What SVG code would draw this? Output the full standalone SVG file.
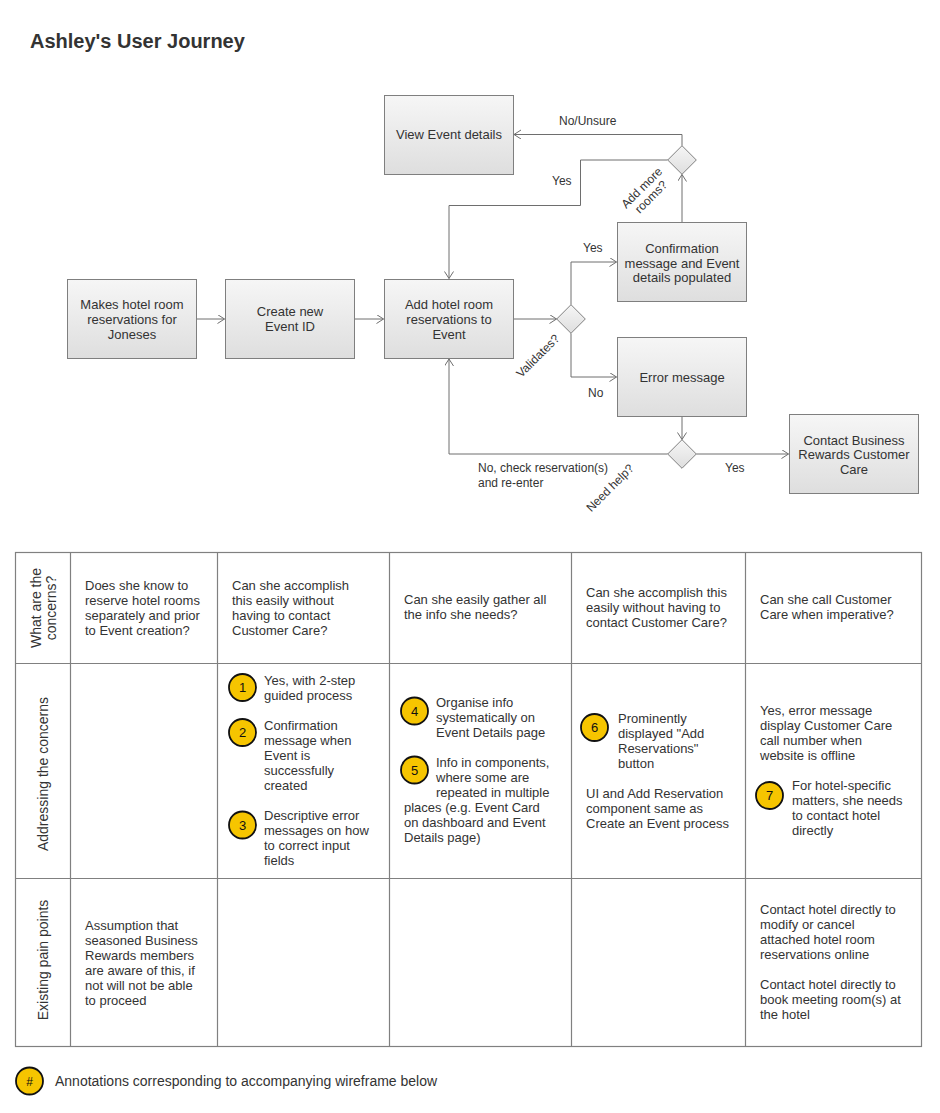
<svg xmlns="http://www.w3.org/2000/svg" width="940" height="1113" viewBox="0 0 940 1113">
<defs>
<linearGradient id="boxg" x1="0" y1="0" x2="0" y2="1">
<stop offset="0" stop-color="#f6f6f6"/>
<stop offset="1" stop-color="#dedede"/>
</linearGradient>
<marker id="arr" markerUnits="userSpaceOnUse" markerWidth="10" markerHeight="11" refX="7.5" refY="4.5" orient="auto">
<path d="M0.5,0 L7.5,4.5 L0.5,9" fill="none" stroke="#6e6e6e" stroke-width="1"/>
</marker>
<style>
text{font-family:"Liberation Sans",Arial,sans-serif;fill:#333;}
.t13{font-size:13px;}
.t12{font-size:12px;}
.t14{font-size:14px;}
.mid{text-anchor:middle;}
.box{fill:url(#boxg);stroke:#7f7f7f;stroke-width:1;}
.dia{fill:url(#boxg);stroke:#7f7f7f;stroke-width:1;}
.con{fill:none;stroke:#6e6e6e;stroke-width:1;}
.grid{fill:none;stroke:#808080;stroke-width:1.2;}
.num{fill:#f6c500;stroke:#111;stroke-width:1.8;}
.nt{font-size:13px;fill:#111;text-anchor:middle;}
</style>
</defs>
<rect x="0" y="0" width="940" height="1113" fill="#fff"/>
<text x="30" y="47.5" style="font-size:20px;font-weight:bold;">Ashley's User Journey</text>

<g id="connectors">
<path class="con" d="M196.5,319 H224.5" marker-end="url(#arr)"/>
<path class="con" d="M354.5,319 H383.5" marker-end="url(#arr)"/>
<path class="con" d="M513.5,319 H556.5" marker-end="url(#arr)"/>
<path class="con" d="M571,304.7 V262 H616.5" marker-end="url(#arr)"/>
<path class="con" d="M571,333.3 V377 H616.5" marker-end="url(#arr)"/>
<path class="con" d="M682,222 V174.5" marker-end="url(#arr)"/>
<path class="con" d="M682,145.7 V134.5 H514" marker-end="url(#arr)"/>
<path class="con" d="M667.7,160 H580.5 V205.5 H449 V278.5" marker-end="url(#arr)"/>
<path class="con" d="M682,416.5 V439.5" marker-end="url(#arr)"/>
<path class="con" d="M667.7,454 H449 V359" marker-end="url(#arr)"/>
<path class="con" d="M696.3,454 H788.5" marker-end="url(#arr)"/>
<text class="t12" x="559" y="125">No/Unsure</text>
<text class="t12" x="552" y="185">Yes</text>
<text class="t12" x="583" y="252">Yes</text>
<text class="t12" x="588" y="397">No</text>
<text class="t12" x="725" y="472">Yes</text>
<text class="t12" x="478" y="472">No, check reservation(s)</text>
<text class="t12" x="478" y="487">and re-enter</text>
<g transform="translate(538,356) rotate(-45)"><text class="t12 mid" x="0" y="4">Validates?</text></g>
<g transform="translate(610,488) rotate(-45)"><text class="t12 mid" x="0" y="4">Need help?</text></g>
<g transform="translate(646,192) rotate(-45)"><text class="t12 mid" x="0" y="-2">Add more</text><text class="t12 mid" x="0" y="11">rooms?</text></g>
</g>

<g id="n_makes">
<rect class="box" x="67.5" y="279.5" width="129" height="79"/>
<text class="t13 mid" x="132" y="309">Makes hotel room</text>
<text class="t13 mid" x="132" y="324">reservations for</text>
<text class="t13 mid" x="132" y="339">Joneses</text>
</g>
<g id="n_create">
<rect class="box" x="225.5" y="279.5" width="129" height="79"/>
<text class="t13 mid" x="290" y="316">Create new</text>
<text class="t13 mid" x="290" y="331">Event ID</text>
</g>
<g id="n_add">
<rect class="box" x="384.5" y="279.5" width="129" height="79"/>
<text class="t13 mid" x="449" y="309">Add hotel room</text>
<text class="t13 mid" x="449" y="324">reservations to</text>
<text class="t13 mid" x="449" y="339">Event</text>
</g>
<g id="n_view">
<rect class="box" x="384.5" y="95.5" width="129" height="79"/>
<text class="t13 mid" x="449" y="139">View Event details</text>
</g>
<g id="n_confirm">
<rect class="box" x="617.5" y="222.5" width="129" height="79"/>
<text class="t13 mid" x="682" y="253">Confirmation</text>
<text class="t13 mid" x="682" y="267.5">message and Event</text>
<text class="t13 mid" x="682" y="282">details populated</text>
</g>
<g id="n_error">
<rect class="box" x="617.5" y="337.5" width="129" height="79"/>
<text class="t13 mid" x="682" y="382">Error message</text>
</g>
<g id="n_contact">
<rect class="box" x="789.5" y="414.5" width="129" height="79"/>
<text class="t13 mid" x="854" y="444.5">Contact Business</text>
<text class="t13 mid" x="854" y="459">Rewards Customer</text>
<text class="t13 mid" x="854" y="474">Care</text>
</g>
<g id="d_validates">
<polygon class="dia" points="571,304.7 585.3,319 571,333.3 556.7,319"/>
</g>
<g id="d_addmore">
<polygon class="dia" points="682,145.7 696.3,160 682,174.3 667.7,160"/>
</g>
<g id="d_needhelp">
<polygon class="dia" points="682,439.7 696.3,454 682,468.3 667.7,454"/>
</g>

<g id="table">
<rect class="grid" x="15.5" y="552.5" width="906" height="494" fill="#fff"/>
<path class="grid" d="M70.5,552.5 V1046.5 M217.5,552.5 V1046.5 M389.5,552.5 V1046.5 M571.5,552.5 V1046.5 M745.5,552.5 V1046.5 M15.5,663.5 H921.5 M15.5,878.5 H921.5"/>
<g transform="translate(40.5,608) rotate(-90)"><text class="t14 mid" x="0" y="0">What are the</text><text class="t14 mid" x="0" y="15.5">concerns?</text></g>
<g transform="translate(48,774) rotate(-90)"><text class="t14 mid" x="0" y="0">Addressing the concerns</text></g>
<g transform="translate(48,960) rotate(-90)"><text class="t14 mid" x="0" y="0">Existing pain points</text></g>

<g class="t13">
<text x="85" y="590">Does she know to</text>
<text x="85" y="605">reserve hotel rooms</text>
<text x="85" y="620">separately and prior</text>
<text x="85" y="635">to Event creation?</text>
<text x="232" y="590">Can she accomplish</text>
<text x="232" y="605">this easily without</text>
<text x="232" y="620">having to contact</text>
<text x="232" y="635">Customer Care?</text>
<text x="404" y="604">Can she easily gather all</text>
<text x="404" y="619">the info she needs?</text>
<text x="586" y="597">Can she accomplish this</text>
<text x="586" y="612">easily without having to</text>
<text x="586" y="627">contact Customer Care?</text>
<text x="760" y="604">Can she call Customer</text>
<text x="760" y="619">Care when imperative?</text>

<text x="264" y="685">Yes, with 2-step</text>
<text x="264" y="700">guided process</text>
<text x="264" y="730">Confirmation</text>
<text x="264" y="745">message when</text>
<text x="264" y="760">Event is</text>
<text x="264" y="775">successfully</text>
<text x="264" y="790">created</text>
<text x="264" y="820">Descriptive error</text>
<text x="264" y="835">messages on how</text>
<text x="264" y="850">to correct input</text>
<text x="264" y="865">fields</text>

<text x="436" y="707">Organise info</text>
<text x="436" y="722">systematically on</text>
<text x="436" y="737">Event Details page</text>
<text x="436" y="767">Info in components,</text>
<text x="436" y="782">where some are</text>
<text x="436" y="797">repeated in multiple</text>
<text x="404" y="812">places (e.g. Event Card</text>
<text x="404" y="827">on dashboard and Event</text>
<text x="404" y="842">Details page)</text>

<text x="618" y="723">Prominently</text>
<text x="618" y="738">displayed "Add</text>
<text x="618" y="753">Reservations"</text>
<text x="618" y="768">button</text>
<text x="586" y="798">UI and Add Reservation</text>
<text x="586" y="813">component same as</text>
<text x="586" y="828">Create an Event process</text>

<text x="760" y="715">Yes, error message</text>
<text x="760" y="730">display Customer Care</text>
<text x="760" y="745">call number when</text>
<text x="760" y="760">website is offline</text>
<text x="792" y="790">For hotel-specific</text>
<text x="792" y="805">matters, she needs</text>
<text x="792" y="820">to contact hotel</text>
<text x="792" y="835">directly</text>

<text x="85" y="930">Assumption that</text>
<text x="85" y="945">seasoned Business</text>
<text x="85" y="960">Rewards members</text>
<text x="85" y="975">are aware of this, if</text>
<text x="85" y="990">not will not be able</text>
<text x="85" y="1005">to proceed</text>

<text x="760" y="914">Contact hotel directly to</text>
<text x="760" y="929">modify or cancel</text>
<text x="760" y="944">attached hotel room</text>
<text x="760" y="959">reservations online</text>
<text x="760" y="989">Contact hotel directly to</text>
<text x="760" y="1004">book meeting room(s) at</text>
<text x="760" y="1019">the hotel</text>
</g>
</g>

<g id="a1"><circle class="num" cx="242.5" cy="687.5" r="13.5"/><text class="nt" x="242.5" y="692">1</text></g>
<g id="a2"><circle class="num" cx="242.5" cy="732.5" r="13.5"/><text class="nt" x="242.5" y="737">2</text></g>
<g id="a3"><circle class="num" cx="242.5" cy="825" r="13.5"/><text class="nt" x="242.5" y="829.5">3</text></g>
<g id="a4"><circle class="num" cx="414.5" cy="711" r="13.5"/><text class="nt" x="414.5" y="715.5">4</text></g>
<g id="a5"><circle class="num" cx="414.5" cy="770" r="13.5"/><text class="nt" x="414.5" y="774.5">5</text></g>
<g id="a6"><circle class="num" cx="594.5" cy="727.5" r="13.5"/><text class="nt" x="594.5" y="732">6</text></g>
<g id="a7"><circle class="num" cx="769.5" cy="795.5" r="13.5"/><text class="nt" x="769.5" y="800">7</text></g>

<g id="legend">
<circle class="num" cx="29.5" cy="1081" r="13.5"/>
<text class="nt" x="29.5" y="1085.5" style="font-size:12px;">#</text>
<text class="t14" x="55" y="1086">Annotations corresponding to accompanying wireframe below</text>
</g>
</svg>
